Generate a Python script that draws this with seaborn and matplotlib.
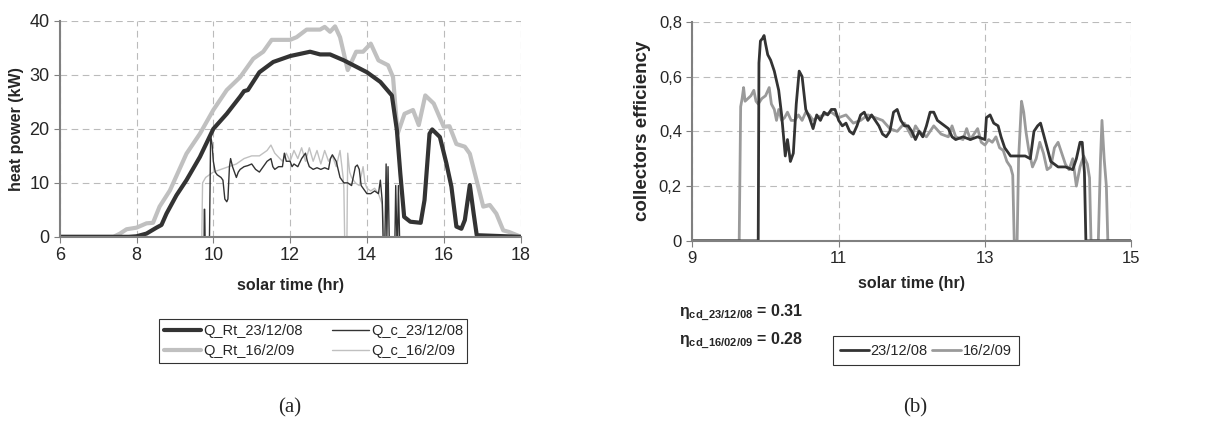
import matplotlib
matplotlib.use('Agg')
import matplotlib.pyplot as plt
import seaborn as sns
from matplotlib.lines import Line2D

sns.set_style('white')
plt.rcParams['font.family'] = ['Liberation Sans', 'DejaVu Sans']
plt.rcParams['mathtext.fontset'] = 'custom'
plt.rcParams['mathtext.rm'] = 'Liberation Sans:bold'
plt.rcParams['mathtext.it'] = 'Liberation Sans:bold'
plt.rcParams['mathtext.bf'] = 'Liberation Sans:bold'

# ---- panel (a): heat power ----
rt23_t = [6.0, 7.8, 8.0, 8.26, 8.52, 8.65, 8.78, 9.04, 9.3, 9.65, 10.0, 10.35,
          10.7, 10.8, 10.9, 11.2, 11.56, 12.0, 12.52, 12.78, 13.04, 13.4, 14.0,
          14.35, 14.65, 14.78, 14.87, 14.97, 15.13, 15.4, 15.5, 15.63, 15.7,
          15.9, 16.07, 16.2, 16.33, 16.46, 16.55, 16.68, 16.78, 16.86, 18.0]
rt23_p = [0, 0, 0.1, 0.6, 1.7, 2.2, 4.3, 7.7, 10.5, 14.8, 20.0, 22.8,
          26.0, 27.0, 27.2, 30.5, 32.4, 33.5, 34.3, 33.8, 33.8, 32.7, 30.5,
          28.7, 26.2, 19.8, 11.7, 3.7, 2.8, 2.6, 6.8, 19.1, 19.9,
          18.5, 13.6, 9.3, 1.9, 1.5, 3.1, 9.6, 4.3, 0.3, 0]

rt16_t = [6.0, 7.4, 7.57, 7.74, 8.0, 8.26, 8.43, 8.6, 8.87, 9.3, 9.65, 10.0,
          10.35, 10.7, 11.04, 11.3, 11.52, 12.0, 12.17, 12.43, 12.78, 12.9,
          13.04, 13.17, 13.3, 13.5, 13.72, 13.9, 14.1, 14.3, 14.55, 14.68,
          14.8, 14.98, 15.2, 15.35, 15.52, 15.74, 16.0, 16.15, 16.33, 16.55,
          16.68, 17.03, 17.2, 17.37, 17.55, 17.7, 17.98]
rt16_p = [0, 0, 0.6, 1.4, 1.7, 2.5, 2.6, 5.6, 8.6, 15.4, 19.1, 23.5,
          27.2, 29.6, 33.0, 34.3, 36.5, 36.5, 37.0, 38.4, 38.4, 38.9,
          38.0, 39.0, 37.0, 30.9, 34.3, 34.3, 35.8, 32.7, 31.8, 29.6,
          19.1, 22.8, 23.5, 20.7, 26.2, 24.7, 20.4, 20.5, 17.2, 16.7,
          15.4, 5.6, 5.9, 4.3, 1.2, 0.9, 0.1]

c23_t = [6.0, 9.76, 9.765, 9.775, 9.785, 9.9, 9.93, 9.97, 10.0, 10.05, 10.1,
         10.2, 10.25, 10.3, 10.35, 10.38, 10.42, 10.45, 10.5, 10.55, 10.6,
         10.65, 10.7, 10.8, 10.9, 11.0, 11.1, 11.2, 11.3, 11.4, 11.5, 11.55,
         11.6, 11.7, 11.8, 11.85, 11.9, 12.0, 12.05, 12.1, 12.2, 12.3, 12.4,
         12.45, 12.5, 12.6, 12.7, 12.8, 12.9, 13.0, 13.05, 13.1, 13.2, 13.3,
         13.4, 13.5, 13.6, 13.7, 13.75, 13.8, 13.85, 13.9, 14.0, 14.1, 14.2,
         14.3, 14.35, 14.4, 14.42, 14.47, 14.5, 14.52, 14.55, 14.58, 14.73,
         14.75, 14.78, 14.8, 14.82, 14.85, 18.0]
c23_p = [0, 0, 5.1, 5.1, 0, 0, 18.8, 17.0, 14.0, 12.0, 11.5,
         11.0, 10.5, 7.0, 6.5, 7.0, 13.0, 14.5, 13.0, 12.0, 11.0,
         12.0, 12.5, 13.0, 13.2, 13.5, 12.5, 12.0, 13.0, 14.0, 14.5, 13.0,
         12.5, 13.0, 13.0, 15.5, 14.0, 14.0, 13.0, 13.5, 13.0, 14.5, 15.5,
         14.0, 13.0, 12.5, 12.8, 12.5, 12.8, 12.5, 14.5, 15.2, 14.0, 11.0,
         10.0, 10.0, 9.5, 13.0, 13.3, 12.5, 9.5, 9.0, 8.0, 8.0, 8.5,
         8.0, 10.5, 6.5, 0, 0, 13.5, 0, 13.0, 0, 0,
         9.5, 0, 0, 9.5, 0, 0]

c16_t = [6.0, 9.7, 9.72, 9.8, 9.9, 10.0, 10.2, 10.4, 10.6, 10.8, 11.0, 11.2,
         11.4, 11.5, 11.6, 11.8, 11.9, 12.0, 12.1, 12.2, 12.3, 12.4, 12.5,
         12.6, 12.7, 12.8, 12.9, 13.0, 13.1, 13.2, 13.3, 13.38, 13.4, 13.42,
         13.48, 13.5, 13.55, 13.6, 13.7, 13.8, 13.9, 13.95, 14.0, 14.1, 14.2,
         14.3, 14.35, 14.4, 14.45, 18.0]
c16_p = [0, 0, 10.0, 11.0, 11.5, 12.0, 12.5, 13.0, 13.5, 14.5, 15.0, 15.0,
         16.0, 17.0, 15.5, 14.0, 15.5, 14.0, 16.0, 14.5, 16.5, 14.0, 16.5,
         14.0, 16.0, 13.5, 16.0, 14.0, 15.0, 13.0, 16.0, 11.0, 9.0, 0,
         0, 15.5, 12.0, 11.0, 10.0, 9.5, 13.0, 10.0, 9.0, 8.5, 9.0,
         8.0, 7.0, 6.0, 0, 0]

# ---- panel (b): collectors efficiency ----
e23_t = [9.0, 9.9, 9.91, 9.93, 9.96, 9.98, 10.0, 10.03, 10.07, 10.12, 10.18,
         10.22, 10.27, 10.3, 10.34, 10.38, 10.42, 10.46, 10.5, 10.55, 10.6,
         10.65, 10.7, 10.75, 10.8, 10.85, 10.9, 10.95, 11.0, 11.05, 11.1,
         11.15, 11.2, 11.25, 11.3, 11.35, 11.4, 11.45, 11.5, 11.55, 11.6,
         11.65, 11.7, 11.75, 11.8, 11.85, 11.9, 11.95, 12.0, 12.05, 12.1,
         12.15, 12.2, 12.25, 12.3, 12.35, 12.4, 12.45, 12.5, 12.55, 12.6,
         12.7, 12.8, 12.9, 13.0, 13.02, 13.07, 13.12, 13.18, 13.22, 13.27,
         13.35, 13.45, 13.55, 13.62, 13.67, 13.72, 13.76, 13.8, 13.85, 13.9,
         13.95, 14.0, 14.1, 14.2, 14.25, 14.3, 14.33, 14.36, 14.38, 15.0]
e23_v = [0, 0, 0.65, 0.73, 0.74, 0.75, 0.72, 0.68, 0.66, 0.62, 0.55,
         0.46, 0.31, 0.37, 0.29, 0.32, 0.50, 0.62, 0.60, 0.48, 0.45,
         0.41, 0.46, 0.44, 0.47, 0.46, 0.48, 0.48, 0.44, 0.42, 0.43,
         0.40, 0.39, 0.42, 0.46, 0.47, 0.44, 0.46, 0.44, 0.42, 0.39,
         0.38, 0.40, 0.47, 0.48, 0.44, 0.42, 0.42, 0.40, 0.37, 0.40,
         0.38, 0.42, 0.47, 0.47, 0.44, 0.43, 0.42, 0.41, 0.38, 0.37,
         0.38, 0.37, 0.38, 0.37, 0.45, 0.46, 0.43, 0.42, 0.38, 0.34,
         0.31, 0.31, 0.31, 0.30, 0.40, 0.42, 0.43, 0.39, 0.34, 0.29,
         0.28, 0.27, 0.27, 0.26, 0.30, 0.36, 0.36, 0.25, 0, 0]

e16_t = [9.0, 9.64, 9.66, 9.68, 9.7, 9.72, 9.76, 9.8, 9.84, 9.87, 9.9, 9.95,
         10.0, 10.05, 10.08, 10.12, 10.15, 10.18, 10.22, 10.26, 10.3, 10.35,
         10.4, 10.45, 10.5, 10.55, 10.6, 10.65, 10.7, 10.8, 10.9, 11.0, 11.1,
         11.2, 11.3, 11.4, 11.5, 11.6, 11.7, 11.8, 11.9, 12.0, 12.05, 12.1,
         12.2, 12.3, 12.4, 12.5, 12.55, 12.6, 12.7, 12.75, 12.8, 12.9, 12.95,
         13.0, 13.05, 13.1, 13.15, 13.2, 13.25, 13.3, 13.35, 13.38, 13.4,
         13.44, 13.46, 13.5, 13.53, 13.56, 13.6, 13.65, 13.7, 13.75, 13.8,
         13.85, 13.9, 13.95, 14.0, 14.05, 14.1, 14.15, 14.2, 14.25, 14.3,
         14.35, 14.4, 14.43, 14.45, 14.55, 14.58, 14.6, 14.63, 14.66, 14.68,
         15.0]
e16_v = [0, 0, 0.49, 0.52, 0.56, 0.51, 0.52, 0.53, 0.55, 0.51, 0.50, 0.52,
         0.53, 0.56, 0.50, 0.48, 0.44, 0.48, 0.44, 0.45, 0.47, 0.44,
         0.44, 0.46, 0.44, 0.47, 0.46, 0.44, 0.45, 0.46, 0.47, 0.45, 0.46,
         0.43, 0.44, 0.46, 0.45, 0.44, 0.41, 0.40, 0.43, 0.38, 0.42, 0.40,
         0.38, 0.42, 0.39, 0.38, 0.42, 0.38, 0.37, 0.41, 0.37, 0.41, 0.36,
         0.35, 0.37, 0.36, 0.38, 0.34, 0.33, 0.29, 0.27, 0.24, 0,
         0, 0.30, 0.51, 0.47, 0.40, 0.33, 0.27, 0.30, 0.36, 0.32,
         0.26, 0.27, 0.34, 0.36, 0.32, 0.28, 0.26, 0.30, 0.20, 0.27,
         0.31, 0.28, 0.23, 0, 0, 0.30, 0.44, 0.30, 0.20, 0,
         0]

left_xticks = [6, 8, 10, 12, 14, 16, 18]
left_yticks = [0, 10, 20, 30, 40]
right_xticks = [9, 11, 13, 15]
right_yticks = [0, 0.2, 0.4, 0.6, 0.8]
right_yticklabels = ['0', '0,2', '0,4', '0,6', '0,8']

DARK = '#333333'
LIGHT = '#c0c0c0'
MID = '#9a9a9a'
AXCOL = '#808080'

fig = plt.figure(figsize=(12.19, 4.46), dpi=100)
ax1 = fig.add_axes([0.049, 0.469, 0.378, 0.484])
ax2 = fig.add_axes([0.568, 0.460, 0.360, 0.491])


def style_axes(ax, size):
    ax.grid(True, color='#bbbbbb', linestyle=(0, (6, 4)), linewidth=0.8)
    for s in ['top', 'right']:
        ax.spines[s].set_visible(False)
    for s in ['left', 'bottom']:
        ax.spines[s].set_color(AXCOL)
        ax.spines[s].set_linewidth(1.5)
    ax.tick_params(axis='both', direction='out', length=4, color=AXCOL,
                   labelsize=size, left=True, bottom=True)
    ax.set_axisbelow(True)


sns.lineplot(x=rt16_t, y=rt16_p, ax=ax1, color=LIGHT, lw=3,
             estimator=None, sort=False)
sns.lineplot(x=c16_t, y=c16_p, ax=ax1, color=LIGHT, lw=1,
             estimator=None, sort=False)
sns.lineplot(x=c23_t, y=c23_p, ax=ax1, color=DARK, lw=1,
             estimator=None, sort=False)
sns.lineplot(x=rt23_t, y=rt23_p, ax=ax1, color=DARK, lw=3,
             estimator=None, sort=False)
ax1.set_xlim(6, 18)
ax1.set_ylim(0, 40)
ax1.set_xticks(left_xticks)
ax1.set_yticks(left_yticks)
style_axes(ax1, 13)
ax1.set_xlabel('solar time (hr)', fontweight='bold', fontsize=11.5,
               labelpad=10)
ax1.set_ylabel('heat power (kW)', fontweight='bold', fontsize=11.5,
               labelpad=4)

h1 = [Line2D([], [], color=DARK, lw=3), Line2D([], [], color=LIGHT, lw=3),
      Line2D([], [], color=DARK, lw=1), Line2D([], [], color=LIGHT, lw=1)]
l1 = ['Q_Rt_23/12/08', 'Q_Rt_16/2/09', 'Q_c_23/12/08', 'Q_c_16/2/09']
leg1 = fig.legend(h1, l1, ncol=2, loc='upper center',
                  bbox_to_anchor=(0.257, 0.300), fontsize=10.5, frameon=True,
                  fancybox=False, edgecolor='black', handlelength=2.6,
                  columnspacing=2.0, handletextpad=0.1, borderpad=0.3,
                  labelspacing=0.45)
leg1.get_frame().set_linewidth(0.8)

sns.lineplot(x=e16_t, y=e16_v, ax=ax2, color=MID, lw=2,
             estimator=None, sort=False)
sns.lineplot(x=e23_t, y=e23_v, ax=ax2, color=DARK, lw=2,
             estimator=None, sort=False)
ax2.set_xlim(9, 15)
ax2.set_ylim(0, 0.8)
ax2.set_xticks(right_xticks)
ax2.set_yticks(right_yticks)
ax2.set_yticklabels(right_yticklabels)
style_axes(ax2, 12)
ax2.set_xlabel('solar time (hr)', fontweight='bold', fontsize=11.5,
               labelpad=7)
ax2.set_ylabel('collectors efficiency', fontweight='bold', fontsize=13.5,
               labelpad=6)

h2 = [Line2D([], [], color=DARK, lw=2), Line2D([], [], color=MID, lw=2)]
leg2 = fig.legend(h2, ['23/12/08', '16/2/09'], ncol=2, loc='upper left',
                  bbox_to_anchor=(0.677, 0.262), fontsize=10.5, frameon=True,
                  fancybox=False, edgecolor='black', handlelength=2.0,
                  columnspacing=0.3, handletextpad=0.1, borderpad=0.5)
leg2.get_frame().set_linewidth(0.8)

fig.text(0.557, 0.298, r'$\eta_{cd\_23/12/08}$ = 0.31', fontsize=11.5,
         fontweight='bold', ha='left', va='center')
fig.text(0.557, 0.235, r'$\eta_{cd\_16/02/09}$ = 0.28', fontsize=11.5,
         fontweight='bold', ha='left', va='center')

fig.text(0.238, 0.085, '(a)', fontsize=15, family='Liberation Serif',
         ha='center', va='center')
fig.text(0.751, 0.085, '(b)', fontsize=15, family='Liberation Serif',
         ha='center', va='center')

fig.savefig('out.png', dpi=100)
